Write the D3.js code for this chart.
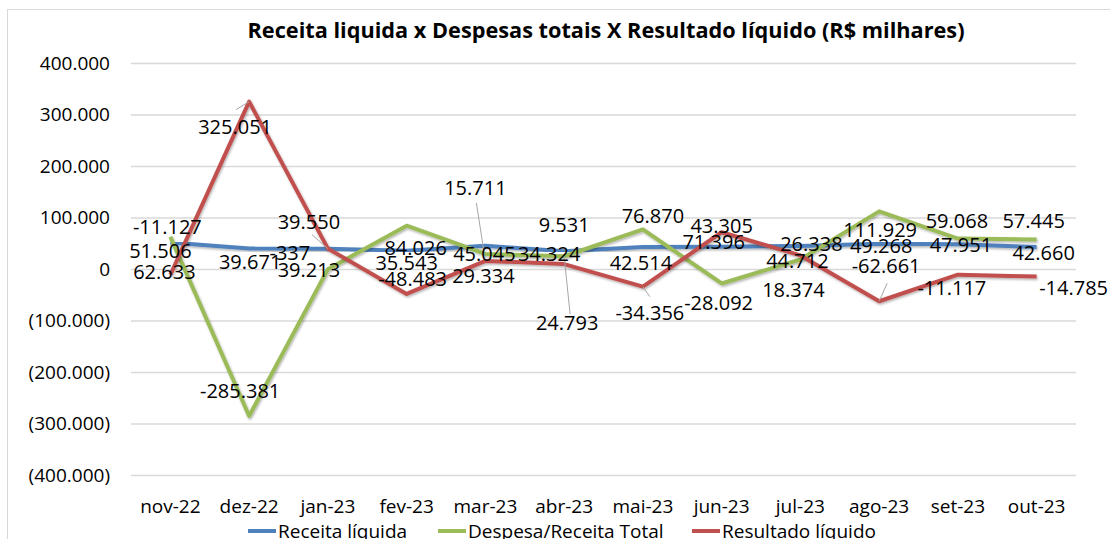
<!DOCTYPE html>
<html>
<head>
<meta charset="utf-8">
<script src="https://cdn.jsdelivr.net/npm/d3@7"></script>
<style>
  body { margin: 0; background: #fff; }
  svg { display: block; font-family: "Open Sans", sans-serif; }
</style>
</head>
<body>
<div class="container"></div>
<script>
// data (R$ milhares)
var months = ["nov-22", "dez-22", "jan-23", "fev-23", "mar-23", "abr-23", "mai-23", "jun-23", "jul-23", "ago-23", "set-23", "out-23"];
var receita = [51506, 39671, 39213, 35543, 45045, 34324, 42514, 43305, 44712, 49268, 47951, 42660];
var despesa = [62633, -285381, -337, 84026, 29334, 24793, 76870, -28092, 18374, 111929, 59068, 57445];
var resultado = [-11127, 325051, 39550, -48483, 15711, 9531, -34356, 71396, 26338, -62661, -11117, -14785];
var yTicks = [400000, 300000, 200000, 100000, 0, -100000, -200000, -300000, -400000];
var seriesNames = ["Receita líquida", "Despesa/Receita Total", "Resultado líquido"];
var colors = ["#4f81bd", "#9bbb59", "#c0504d"];

// label offsets from each point (dx, dy), as Excel placed them
var labelOffsets = [
    [[-10, 9], [1, 13], [-19, 21], [0, 12], [-1, 8], [-15, 3], [-2, 16], [0, -21], [-3, 15], [2, 2], [3, 1], [7, 6]],
    [[-6, 35], [-9, -25], [-38, -16], [9, 22], [-2, 22], [3, 67], [10, -13], [-3, 20], [-7, 30], [1, 19], [-1, -18], [-3, -18]],
    [[-3, -48], [-14, 25], [-19, -27], [6, -15], [-10, -73], [0, -39], [7, 26], [-8, 10], [11, -11], [7, -35], [-6, 13], [37, 11]]
];
// leader lines: [series, index, start dx, start dy] -> to the point
var leaders = [[2, 1, -13, 8], [2, 2, -16, -14], [2, 4, -9, -58], [1, 5, 6, 58], [2, 6, 7, 10], [2, 9, 8, -18]];

var svgWidth = 1110;
var svgHeight = 539;
var plot = { left: 131, right: 1076, top: 63, bottom: 475 };

var svg = d3.select(".container")
    .append("svg")
    .attr("width", svgWidth)
    .attr("height", svgHeight);

var defs = svg.append("defs");
var shadow = defs.append("filter").attr("id", "shadow")
    .attr("x", "-5%").attr("y", "-5%").attr("width", "110%").attr("height", "110%");
shadow.append("feDropShadow")
    .attr("dx", 1).attr("dy", 1.5).attr("stdDeviation", 1)
    .attr("flood-color", "#000").attr("flood-opacity", 0.3);

// chart border
svg.append("rect")
    .attr("x", 7.5).attr("y", 9.5)
    .attr("width", 1200).attr("height", 700)
    .attr("fill", "none").attr("stroke", "#d9d9d9");

svg.append("text")
    .attr("x", 606).attr("y", 38)
    .attr("text-anchor", "middle")
    .attr("font-weight", "bold")
    .attr("font-size", 22)
    .attr("textLength", 717)
    .attr("lengthAdjust", "spacingAndGlyphs")
    .text("Receita liquida x Despesas totais X Resultado líquido (R$ milhares)");

var xScale = d3.scaleBand().domain(months).range([plot.left, plot.right]);
var yScale = d3.scaleLinear().domain([-400000, 400000]).range([plot.bottom, plot.top]);

var locale = d3.formatLocale({ decimal: ",", thousands: ".", grouping: [3], currency: ["R$", ""] });
var fmt = locale.format(",d");
function tickFmt(v) { return v < 0 ? "(" + fmt(-v) + ")" : fmt(v); }

// gridlines + y labels
var leftAxis = d3.axisLeft(yScale)
    .tickValues(yTicks)
    .tickSize(-(plot.right - plot.left))
    .tickPadding(21)
    .tickFormat(tickFmt);

var yG = svg.append("g")
    .attr("transform", `translate(${plot.left}, 0)`)
    .call(leftAxis);
yG.select(".domain").remove();
yG.selectAll(".tick line").attr("stroke", "#d9d9d9").attr("stroke-width", 1.3);
yG.selectAll(".tick text").attr("font-size", 19).attr("fill", "#000").attr("font-family", "Open Sans");

var bottomAxis = d3.axisBottom(xScale).tickSize(0);
var xG = svg.append("g")
    .attr("transform", `translate(0, ${plot.bottom})`)
    .call(bottomAxis);
xG.select(".domain").remove();
xG.selectAll(".tick text")
    .attr("y", 31).attr("dy", "0.35em")
    .attr("font-size", 19).attr("fill", "#000").attr("font-family", "Open Sans");

var allSeries = [receita, despesa, resultado];
var xc = d => xScale(d) + xScale.bandwidth() / 2;

var line = d3.line()
    .x((d, i) => xc(months[i]))
    .y(d => yScale(d));

svg.selectAll(".series")
    .data(allSeries)
    .enter()
    .append("path")
    .attr("class", "series")
    .attr("d", d => line(d))
    .attr("fill", "none")
    .attr("stroke", (d, i) => colors[i])
    .attr("stroke-width", 4)
    .attr("stroke-linejoin", "round")
    .attr("filter", "url(#shadow)");

// leader lines
svg.selectAll(".leader")
    .data(leaders)
    .enter()
    .append("line")
    .attr("class", "leader")
    .attr("x1", d => xc(months[d[1]]) + d[2])
    .attr("y1", d => yScale(allSeries[d[0]][d[1]]) + d[3])
    .attr("x2", d => xc(months[d[1]]))
    .attr("y2", d => yScale(allSeries[d[0]][d[1]]))
    .attr("stroke", "#a6a6a6")
    .attr("stroke-width", 1);

// data labels
allSeries.forEach((values, s) => {
    svg.selectAll(".label-" + s)
        .data(values)
        .enter()
        .append("text")
        .attr("class", "label-" + s)
        .attr("x", (d, i) => xc(months[i]) + labelOffsets[s][i][0])
        .attr("y", (d, i) => yScale(d) + labelOffsets[s][i][1])
        .attr("dy", "0.35em")
        .attr("text-anchor", "middle")
        .attr("font-size", 20)
        .attr("fill", "#000")
        .text(d => (d < 0 ? "-" : "") + fmt(Math.abs(d)));
});

// legend
var legendX = [248, 438, 692];
var legend = svg.selectAll(".legend")
    .data(seriesNames)
    .enter()
    .append("g")
    .attr("class", "legend")
    .attr("transform", (d, i) => `translate(${legendX[i]}, 531)`);
legend.append("line")
    .attr("x1", 0).attr("x2", 28)
    .attr("stroke", (d, i) => colors[i])
    .attr("stroke-width", 4);
legend.append("text")
    .attr("x", 30)
    .attr("dy", "0.35em")
    .attr("font-size", 19)
    .attr("fill", "#000")
    .text(d => d);
</script>
</body>
</html>
